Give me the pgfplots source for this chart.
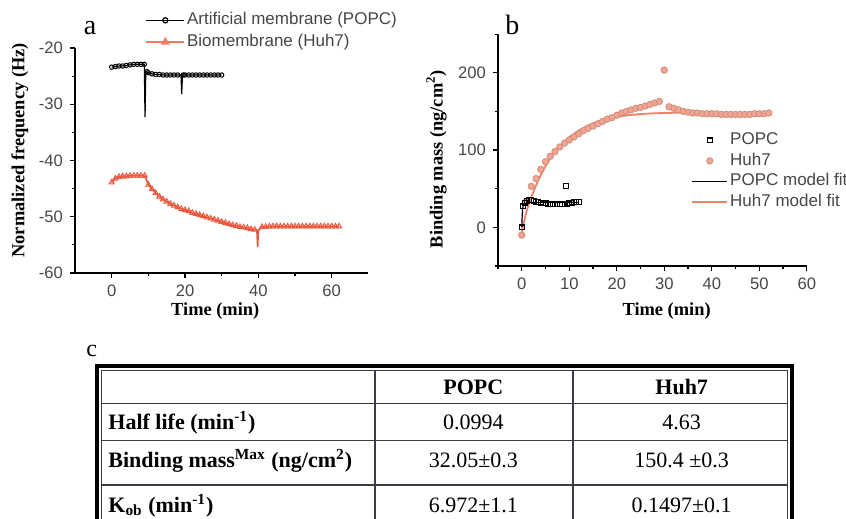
\documentclass[border=0pt]{standalone}
\usepackage{pgfplots}
\pgfplotsset{compat=1.18}
\usepackage{fontspec}
\setmainfont{Liberation Sans}
\newfontfamily\timesf{Liberation Serif}
\definecolor{huhline}{RGB}{232,88,62}
\definecolor{huhleg}{RGB}{240,120,100}
\definecolor{huhpt}{RGB}{242,165,145}
\definecolor{huhfit}{RGB}{240,128,105}
\definecolor{ticktxt}{RGB}{70,70,70}
\definecolor{gridc}{RGB}{60,60,70}

\pgfplotsset{
  common/.style={
    scale only axis,
    axis x line*=bottom, axis y line*=left,
    axis line style={black, line width=0.7pt},
    tick align=outside,
    major tick length=2.5pt, minor tick length=1.5pt,
    tick style={black, line width=0.6pt},
    tick label style={font=\fontsize{8.3}{10}\selectfont, text=ticktxt},
    /pgf/number format/assume math mode=true,
    label style={font=\timesf\bfseries\fontsize{9.2}{11}\selectfont},
    legend style={draw=none, fill=none, inner sep=0pt, font=\fontsize{8.5}{10}\selectfont, text=ticktxt,
      nodes={inner sep=1pt, text height=6.3pt, text depth=1.9pt}},
    legend cell align=left,
    clip=false,
  }
}

\begin{document}
\begin{tikzpicture}
\path[use as bounding box] (0pt,0pt) rectangle (423pt,-259.5pt);

% ---------------- panel a ----------------
\begin{axis}[common,
  at={(37.5pt,-136.5pt)}, anchor=south west,
  width=146.7pt, height=112.5pt,
  xmin=-10, xmax=70, ymin=-60, ymax=-20,
  xtick={0,20,40,60}, minor xtick={10,30,50},
  ytick={-60,-50,-40,-30,-20}, minor ytick={-55,-45,-35,-25},
  xlabel={Time (min)}, ylabel={Normalized frequency (Hz)},
  xlabel style={at={(axis description cs:0.478,-0.168)}, anchor=center},
  ylabel style={at={(axis description cs:-0.188,0.545)}, anchor=center},
  legend style={at={(axis description cs:0.239,1.17)}, anchor=north west, row sep=0.65pt},
  legend image code/.code={\draw[mark repeat=2,mark phase=2,#1] plot coordinates {(0pt,0pt)(9.5pt,0pt)(19pt,0pt)};},
]
\addlegendimage{black, line width=0.6pt, mark=o, mark size=1.3pt, mark options={solid}}
\addlegendentry{Artificial membrane (POPC)}
\addlegendimage{huhleg, line width=0.8pt, mark=triangle, mark size=1.8pt}
\addlegendentry{Biomembrane (Huh7)}

% POPC line with spikes
\addplot[black, line width=0.6pt, forget plot] coordinates {
(0,-23.4)(1,-23.3)(2,-23.2)(3,-23.2)(4,-23.1)(5,-23.0)(6,-22.9)(7,-22.9)(8,-22.9)(8.9,-22.9)
(9.1,-32.3)(9.3,-24.2)(10,-24.4)(11,-24.6)(12,-24.7)(13,-24.7)(14,-24.8)(15,-24.8)(16,-24.8)(17,-24.8)(18,-24.8)(18.9,-24.8)
(19.1,-28.2)(19.3,-24.8)(20,-24.8)(21,-24.8)(22,-24.8)(23,-24.8)(24,-24.8)(25,-24.8)(26,-24.8)(27,-24.8)(28,-24.8)(29,-24.8)(30,-24.8)
};
\addplot[black, only marks, mark=o, mark size=1.1pt, line width=0.5pt, forget plot] coordinates {
(0,-23.4)(1,-23.3)(2,-23.2)(3,-23.2)(4,-23.1)(5,-23.0)(6,-22.9)(7,-22.9)(8,-22.9)(8.9,-22.9)
(9.6,-24.2)(10,-24.4)(11,-24.6)(12,-24.7)(13,-24.7)(14,-24.8)(15,-24.8)(16,-24.8)(17,-24.8)(18,-24.8)
(19.5,-24.8)(20,-24.8)(21,-24.8)(22,-24.8)(23,-24.8)(24,-24.8)(25,-24.8)(26,-24.8)(27,-24.8)(28,-24.8)(29,-24.8)(30,-24.8)
};
% Huh7
\addplot[huhline, line width=0.8pt, forget plot] coordinates {
(0,-43.9)(0.5,-43.5)(1,-43.2)(1.5,-43.0)(2,-42.9)(3,-42.8)(4,-42.8)(5,-42.7)(6,-42.7)(7,-42.7)(8,-42.7)(9,-42.7)
(9.5,-43.5)(10,-44.3)(11,-45.1)(12,-45.8)(13,-46.4)(14,-46.9)(15,-47.3)(16,-47.7)(17,-48.0)(18,-48.3)(19,-48.6)(20,-48.8)
(21,-49.0)(22,-49.3)(23,-49.5)(24,-49.7)(25,-49.9)(26,-50.1)(27,-50.3)(28,-50.5)(29,-50.7)(30,-50.9)(31,-51.1)(32,-51.3)
(33,-51.5)(34,-51.6)(35,-51.8)(36,-51.9)(37,-52.0)(38,-52.2)(39,-52.3)(39.6,-52.4)(39.8,-55.4)(40,-52.5)(40.5,-52.1)(41,-51.8)
(42,-51.8)(43,-51.7)(44,-51.7)(45,-51.7)(46,-51.7)(47,-51.7)(48,-51.7)(49,-51.7)(50,-51.7)(51,-51.7)(52,-51.7)(53,-51.7)
(54,-51.7)(55,-51.7)(56,-51.7)(57,-51.7)(58,-51.7)(59,-51.7)(60,-51.7)(61,-51.7)(62,-51.7)
};
\addplot[huhline, only marks, mark=triangle, mark size=1.5pt, line width=0.5pt, forget plot] coordinates {
(0,-43.9)(1,-43.2)(2,-42.9)(3,-42.8)(4,-42.8)(5,-42.7)(6,-42.7)(7,-42.7)(8,-42.7)(9,-42.7)
(10,-44.3)(11,-45.1)(12,-45.8)(13,-46.4)(14,-46.9)(15,-47.3)(16,-47.7)(17,-48.0)(18,-48.3)(19,-48.6)(20,-48.8)
(21,-49.0)(22,-49.3)(23,-49.5)(24,-49.7)(25,-49.9)(26,-50.1)(27,-50.3)(28,-50.5)(29,-50.7)(30,-50.9)(31,-51.1)(32,-51.3)
(33,-51.5)(34,-51.6)(35,-51.8)(36,-51.9)(37,-52.0)(38,-52.2)(39,-52.3)(41,-51.8)
(42,-51.8)(43,-51.7)(44,-51.7)(45,-51.7)(46,-51.7)(47,-51.7)(48,-51.7)(49,-51.7)(50,-51.7)(51,-51.7)(52,-51.7)(53,-51.7)
(54,-51.7)(55,-51.7)(56,-51.7)(57,-51.7)(58,-51.7)(59,-51.7)(60,-51.7)(61,-51.7)(62,-51.7)
};
\end{axis}

% ---------------- panel b ----------------
\begin{axis}[common,
  at={(249pt,-133pt)}, anchor=south west,
  width=154.4pt, height=115.95pt,
  xmin=-5, xmax=60, ymin=-50, ymax=250,
  xtick={0,10,20,30,40,50,60}, minor xtick={-5,5,15,25,35,45,55},
  ytick={0,100,200}, minor ytick={-50,50,150,250},
  xlabel={Time (min)}, ylabel={Binding mass (ng/cm\textsuperscript{2})},
  xlabel style={at={(axis description cs:0.546,-0.193)}, anchor=center},
  ylabel style={at={(axis description cs:-0.199,0.461)}, anchor=center},
  legend style={at={(axis description cs:0.625,0.587)}, anchor=north west, row sep=0pt},
  legend image code/.code={\draw[mark repeat=2,mark phase=2,#1] plot coordinates {(0pt,0pt)(8.75pt,0pt)(17.5pt,0pt)};},
]
\addlegendimage{black, only marks, mark=square, mark size=1.2pt, line width=0.6pt}
\addlegendentry{POPC}
\addlegendimage{only marks, mark=*, mark size=1.6pt, mark options={fill=huhpt, draw=huhpt!85!black}}
\addlegendentry{Huh7}
\addlegendimage{black, line width=0.6pt}
\addlegendentry{POPC model fit}
\addlegendimage{huhfit, line width=0.9pt}
\addlegendentry{Huh7 model fit}

% Huh7 model fit
\addplot[huhfit, line width=0.9pt, forget plot] coordinates {
(0,-8)(0.5,8)(1,20.9)(2,38.9)(3,54.4)(4,67.8)(5,79.3)(6,89.2)(8,105.0)(10,116.7)(12,125.4)(14,131.9)(16,136.7)
(18,140.2)(20,142.9)(22,144.8)(25,146.6)(28,147.6)(32,148.2)(36,148.4)(40,148.5)(46,148.5)(52,148.5)
};
% Huh7 data
\addplot[only marks, mark=*, mark size=1.6pt, mark options={fill=huhpt, draw=huhpt!85!black, line width=0.4pt}, forget plot] coordinates {
(0,-10)(1,33)(2,53)(3,63)(4,75)(5,85)(6,92)(7,98)(8,104)(9,109)(10,113)(11,117)(12,121)(13,125)(14,128)
(15,131)(16,134)(17,137)(18,140)(19,142)(20,145)(21,148)(22,150)(23,152)(24,154)(25,155)(26,157)(27,159)
(28,161)(29,163)(30,203.5)(31,156)(32,154)(33,152)(34,150)(35,149)(36,148)(37,148)(38,147)(39,147)(40,147)
(41,147)(42,146)(43,146)(44,146)(45,146)(46,146)(47,146)(48,146)(49,147)(50,147)(51,147)(52,148)
};
% POPC model fit
\addplot[black, line width=0.6pt, forget plot] coordinates {
(0,0)(0.1,16)(0.2,24.5)(0.3,28.3)(0.4,30.1)(0.5,31.1)(0.7,31.8)(1,32.0)(2,32.05)(12,32.05)
};
% POPC data
\addplot[black, only marks, mark=square, mark size=1.2pt, line width=0.6pt, forget plot] coordinates {
(0,0)(0.3,27)(0.7,32)(1,34)(1.5,35)(2,35)(2.5,34)(3,33)(3.5,33)(4,32)(4.5,31)(5,31)(5.5,30.5)(6,30.5)
(6.5,30)(7,30)(7.5,30)(8,30)(8.5,30)(9,30)(9.3,53.8)(9.6,30)(10,31)(10.5,32)(11,33)(11.5,33)(12,33)
};
\end{axis}

% ---------------- panel labels ----------------
\node[anchor=base, font=\timesf\fontsize{14}{16}\selectfont] at (45pt,-17.5pt) {a};
\node[anchor=base, font=\timesf\fontsize{14}{16}\selectfont] at (256.2pt,-17.5pt) {b};
\node[anchor=base, font=\timesf\fontsize{12}{14}\selectfont] at (45.8pt,-178.3pt) {c};

% ---------------- table c ----------------
\begin{scope}[x=0.5pt,y=-0.5pt]
\draw[black, line width=2pt] (97,519) -- (97,366) -- (791.7,366) -- (791.7,519);
\draw[gridc, line width=0.5pt] (101,519) -- (101,370) -- (787,370) -- (787,519);
\draw[gridc, line width=0.6pt] (101,403.5) -- (787,403.5);
\draw[gridc, line width=0.6pt] (101,440.5) -- (787,440.5);
\draw[gridc, line width=0.6pt] (101,485) -- (787,485);
\draw[gridc, line width=0.6pt] (375,370) -- (375,519);
\draw[gridc, line width=0.6pt] (573,370) -- (573,519);
\begin{scope}[every node/.style={anchor=base, inner sep=0pt}]
\node[font=\timesf\bfseries\fontsize{11}{13}\selectfont] at (473.3,394) {POPC};
\node[font=\timesf\bfseries\fontsize{11}{13}\selectfont] at (681.7,394) {Huh7};
\node[font=\timesf\fontsize{11}{13}\selectfont] at (473.3,429.5) {0.0994};
\node[font=\timesf\fontsize{11}{13}\selectfont] at (681.7,429.5) {4.63};
\node[font=\timesf\fontsize{11}{13}\selectfont] at (473.3,467) {32.05±0.3};
\node[font=\timesf\fontsize{11}{13}\selectfont] at (681.7,467) {150.4 ±0.3};
\node[font=\timesf\fontsize{11}{13}\selectfont] at (473.3,512) {6.972±1.1};
\node[font=\timesf\fontsize{11}{13}\selectfont] at (681.7,512) {0.1497±0.1};
\node[anchor=base west, font=\timesf\bfseries\fontsize{11}{13}\selectfont] at (108,429.5) {Half life (min\textsuperscript{-1})};
\node[anchor=base west, font=\timesf\bfseries\fontsize{11}{13}\selectfont] at (108,467) {Binding mass\textsuperscript{Max} (ng/cm\textsuperscript{2})};
\node[anchor=base west, font=\timesf\bfseries\fontsize{11}{13}\selectfont] at (108,512) {K\textsubscript{ob} (min\textsuperscript{-1})};
\end{scope}
\end{scope}
\end{tikzpicture}
\end{document}
